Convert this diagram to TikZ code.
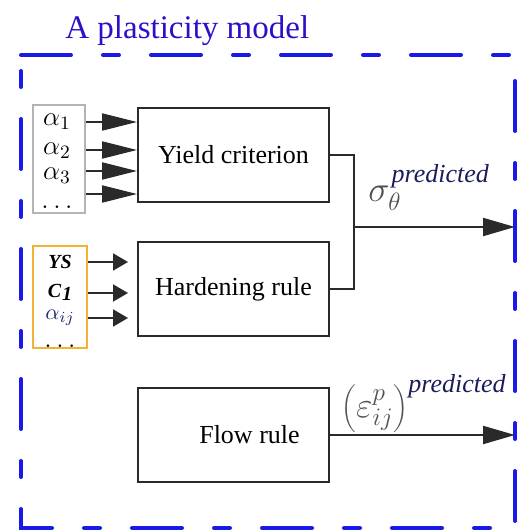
\documentclass[tikz,border=0pt]{standalone}
\usepackage{fix-cm}
\usepackage{fontspec}
\setmainfont{Liberation Serif}
\usetikzlibrary{positioning, arrows.meta, calc}
\definecolor{frameblue}{HTML}{1A1AE8}
\definecolor{titleblue}{HTML}{2A10C8}
\definecolor{boxink}{HTML}{2A2A2A}
\definecolor{pargray}{HTML}{B4B4B4}
\definecolor{parorange}{HTML}{F2B235}
\definecolor{supink}{HTML}{1C1C5A}
\definecolor{symgray}{HTML}{505050}
\definecolor{aijblue}{HTML}{1C2A70}

\begin{document}
\begin{tikzpicture}[
  x=0.5pt, y=0.5pt,
  line join=miter,
  rulebox/.style  = {draw=boxink, line width=1pt, minimum width=95.5pt,
                     minimum height=47pt, inner sep=0pt, anchor=center,
                     font=\fontsize{13}{15}\selectfont},
  parbox/.style   = {line width=1.2pt, inner sep=0pt, anchor=center},
  parlbl/.style   = {font=\fontsize{13.5}{15}\selectfont, inner sep=0pt},
  hparlbl/.style  = {font=\fontsize{10}{12}\selectfont\bfseries\itshape, inner sep=0pt},
  bigarr/.style   = {draw=boxink, line width=1pt, -{Triangle[length=17.5pt,width=8.5pt]}},
  smallarr/.style = {draw=boxink, line width=1pt, -{Triangle[length=7.5pt,width=8.5pt]}},
  outarr/.style   = {draw=boxink, line width=1pt, -{Triangle[length=16pt,width=9pt]}},
  outlbl/.style   = {font=\fontsize{18}{20}\selectfont, inner sep=0pt, anchor=base west}
]
\useasboundingbox (0,0) rectangle (517,530);

% frame and title
\draw[frameblue, line width=2pt, line cap=round,
      dash pattern=on 25pt off 16pt on 8pt off 16pt]
  (21,475) -- (515,475) -- (515,2) -- (21,2) -- cycle;
\node[font=\fontsize{16.5}{19}\selectfont, text=titleblue, anchor=base west,
      inner sep=0pt] (title) at (65,491) {A plasticity model};

% rule blocks
\node[rulebox] (yield)  at (233.5,375) {Yield criterion};
\node[rulebox] (harden) at (233.5,241) {\raisebox{2pt}{Hardening rule}};
\node[rulebox] (flow)   at (233.5,95)  {\hspace*{16pt}Flow rule};

% yield parameters
\node[parbox, draw=pargray, minimum width=26pt, minimum height=54pt] (alphas) at (59,371) {};
\foreach \i/\y in {1/408, 2/379, 3/354}
  \node[parlbl] (a\i) at (57,\y) {$\alpha_\i$};
\node[parlbl] (a4) at (57,323) {$\dots$};
\foreach \y in {408, 380, 359, 336}
  \draw[bigarr] (alphas.east |- 0,\y) -- (yield.west |- 0,\y);

% hardening parameters
\node[parbox, draw=parorange, line width=1pt, minimum width=27pt, minimum height=51pt] (hpars) at (60,233) {};
\node[hparlbl] (ys)  at (60,268) {YS};
\node[hparlbl] (c1)  at (60,238) {C\kern0.5pt\raisebox{-1.5pt}{1}};
\node[parlbl, font=\fontsize{11}{13}\selectfont, text=aijblue] (aij) at (60,212) {$\alpha_{ij}$};
\node[parlbl] (h4)  at (60,184) {$\dots$};
\foreach \y in {268, 237, 212}
  \draw[smallarr, shorten >=4.5pt] (hpars.east |- 0,\y) -- (harden.west |- 0,\y);

% outputs
\draw[boxink, line width=1pt] (yield.east) -- ++(24,0) coordinate (yturn) |- (harden.east);
\coordinate (join) at (yturn |- 0,303);
\coordinate (sigout) at (515,303);
\draw[outarr] (join) -- (sigout);
\node[outlbl] (siglbl) at (368,328)
  {$\color{symgray}\sigma_{\theta}^{\kern1pt\raisebox{3pt}{\color{supink}\fontsize{13}{13}\selectfont\itshape predicted}}$};

\coordinate (epsout) at (515,95);
\draw[outarr] (flow.east) -- (epsout);
\node[outlbl] (epslbl) at (341,112)
  {$\color{symgray}\left(\varepsilon^{p}_{ij}\right)^{\raisebox{1pt}{\color{supink}\fontsize{13}{13}\selectfont\itshape predicted}}$};

\end{tikzpicture}
\end{document}
